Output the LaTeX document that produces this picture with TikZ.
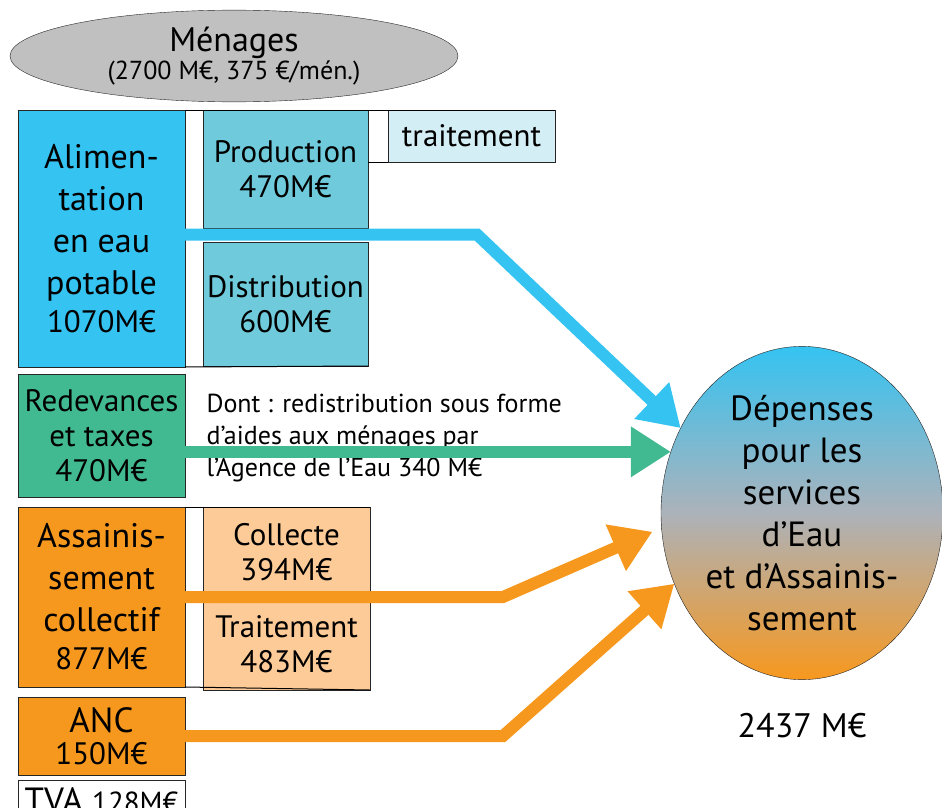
\documentclass[tikz,border=0pt]{standalone}
\usepackage{fontspec}
\setmainfont{PT Sans}
\usepackage{tikz}
\usetikzlibrary{positioning, arrows.meta, shapes.geometric}
\definecolor{bleuAEP}{RGB}{53, 195, 241}
\definecolor{bleuProd}{RGB}{111, 203, 220}
\definecolor{bleuClair}{RGB}{212, 238, 245}
\definecolor{vertRed}{RGB}{66, 186, 145}
\definecolor{orangeAss}{RGB}{247, 152, 30}
\definecolor{peche}{RGB}{253, 203, 151}
\definecolor{grisMen}{RGB}{192, 192, 192}
\definecolor{grisMilieu}{RGB}{172, 178, 186}

\begin{document}
\begin{tikzpicture}[
        x=1pt, y=-1pt,
        boite/.style={
            rectangle,
            draw=black!85,
            line width=1pt,
            align=center,
            inner sep=0pt,
            outer sep=0pt,
            minimum width=167pt
        },
        grand/.style={font=\fontsize{34}{42}\selectfont},
        moyen/.style={font=\fontsize{31}{35}\selectfont},
        flux/.style={
            -{Triangle[length=40pt, width=48pt]},
            line width=12pt
        }
    ]

        \clip (0,0) rectangle (942,808);

        % menages
        \node[ellipse, draw=black!85, fill=grisMen, minimum width=448pt, minimum height=88pt,
              align=center, font=\fontsize{34}{34}\selectfont] (menages) at (234,56)
              {Ménages\\[-6pt]{\fontsize{26}{28}\selectfont (2700 M€, 375 €/mén.)}};

        % eau potable
        \node[boite, grand, fill=bleuAEP, minimum height=257pt] (alim) at (101.5,238.5)
              {Alimen-\\tation\\en eau\\potable\\[-4pt]{\fontsize{31}{34}\selectfont 1070M€}};
        \node[boite, moyen, fill=bleuProd, minimum width=165pt, minimum height=118pt] (prod) at (285.5,169)
              {Production\\470M€};
        \node[boite, moyen, fill=bleuProd, minimum width=165pt, minimum height=124pt] (distrib) at (285.5,304)
              {Distribution\\600M€};
        \node[boite, moyen, fill=bleuClair, minimum height=52pt] (trait) at (471.5,136)
              {traitement};
        \draw[line width=1pt] (alim.north east) -- (trait.north east);
        \draw[line width=1pt] (prod.east |- trait.south) -- (trait.south west);
        \draw[line width=1pt] (alim.south east) -- (distrib.south east);

        % redevances
        \node[boite, moyen, fill=vertRed, minimum height=123pt] (redev) at (101.5,435.5)
              {Redevances\\et taxes\\470M€};
        \node[anchor=west, align=left, font=\fontsize{26}{32}\selectfont] (note) at (203,438)
              {Dont : redistribution sous forme\\d’aides aux ménages par\\l’Agence de l’Eau 340 M€};

        % assainissement
        \node[boite, grand, fill=orangeAss, minimum height=180pt] (assain) at (101.5,597)
              {Assainis-\\sement\\collectif\\[-4pt]{\fontsize{31}{34}\selectfont 877M€}};
        \node[boite, moyen, fill=peche, minimum height=91pt] (coll) at (286.5,552.5)
              {Collecte\\394M€};
        \node[boite, moyen, fill=peche, minimum height=92pt] (traitA) at (286.5,644)
              {Traitement\\483M€};
        \draw[line width=1pt] (assain.north east) -- (coll.north east);
        \draw[line width=1pt] (assain.south east) -- (traitA.south east);

        \node[boite, fill=orangeAss, minimum height=78pt, font=\fontsize{35}{36}\selectfont] (anc) at (101.5,736)
              {ANC\\[-4pt]{\fontsize{31}{34}\selectfont 150M€}};
        \node[boite, fill=white, minimum height=40pt, font=\fontsize{35}{36}\selectfont] (tva) at (101.5,800)
              {TVA {\fontsize{29}{30}\selectfont 128M€}};

        % depenses
        \node[ellipse, draw=black!85, top color=bleuAEP, bottom color=orangeAss, middle color=grisMilieu,
              minimum width=282pt, minimum height=332pt, inner sep=0pt, outer sep=0pt,
              font=\fontsize{35}{42}\selectfont, align=center] (dep) at (802,513)
              {Dépenses\\pour les\\services\\d’Eau\\et d’Assainis-\\sement};
        \node[font=\fontsize{34}{40}\selectfont] (total) at (802,726) {2437 M€};

        % fleches
        \draw[flux, color=bleuAEP] ([yshift=4pt]alim.east) -- ++(292,0) -- (dep.145);
        \draw[flux, color=vertRed] (dep.155 -| redev.east) -- (dep.155);
        \draw[flux, color=orangeAss, shorten >=10pt] (assain.east) -- ++(318,0) -- (dep.186);
        \draw[flux, color=orangeAss] (anc.east) -- ++(318,0) -- (dep.209);

    \end{tikzpicture}
\end{document}
